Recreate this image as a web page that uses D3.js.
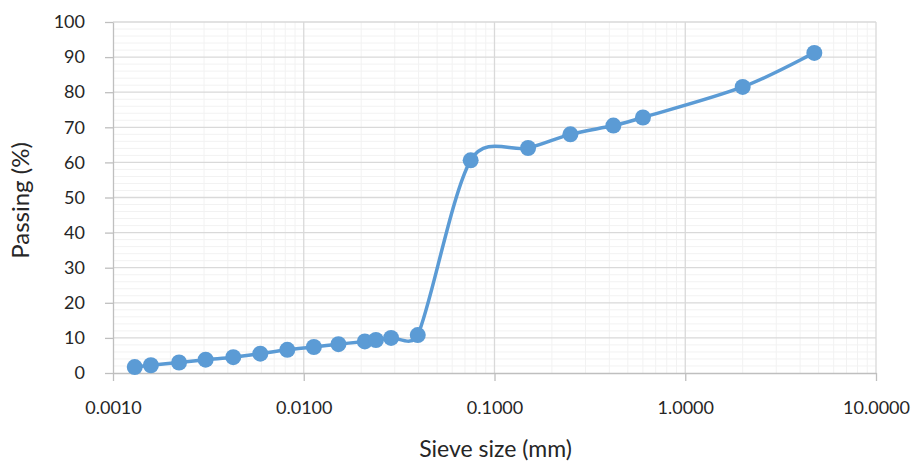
<!DOCTYPE html>
<html>
<head>
<meta charset="utf-8">
<script src="https://cdn.jsdelivr.net/npm/d3@7"></script>
<style>
  body { margin: 0; background: #fff; }
  text { font-family: Lato, "Open Sans", sans-serif; fill: #262626; }
</style>
</head>
<body>
<svg id="chart"></svg>
<script>
// sieve sizes (mm) and percent passing
const sieveSize = [0.0013, 0.00158, 0.00222, 0.00306, 0.00427, 0.00592, 0.0082, 0.0113,
  0.0152, 0.0209, 0.0239, 0.0287, 0.0396, 0.075, 0.15, 0.25, 0.42, 0.6, 2.0, 4.75];
const passing = [1.7, 2.2, 3.0, 3.8, 4.5, 5.5, 6.6, 7.4, 8.2, 9.0, 9.4, 10.0, 10.8,
  60.6, 64.1, 68.0, 70.5, 72.8, 81.5, 91.2];
const xTicks = [0.001, 0.01, 0.1, 1, 10];
const yTicks = [0, 10, 20, 30, 40, 50, 60, 70, 80, 90, 100];

const width = 913, height = 463;
const margin = {top: 22, right: 37, bottom: 90, left: 113};
const w = width - margin.left - margin.right;
const h = height - margin.top - margin.bottom;

const svg = d3.select('#chart').attr('width', width).attr('height', height);
const chart = svg.append('g').attr('transform', `translate(${margin.left},${margin.top})`);

const x = d3.scaleLog().domain([0.001, 10]).range([0, w]);
const y = d3.scaleLinear().domain([0, 100]).range([h, 0]);

// minor grid
const minorX = [];
for (let e = -3; e < 1; e++) for (let m = 2; m <= 9; m++) minorX.push(m * Math.pow(10, e));
const minorY = d3.range(2, 100, 2).filter(v => v % 10 !== 0);

chart.append('g').selectAll('line').data(minorY).join('line')
  .attr('x1', 0).attr('x2', w).attr('y1', d => y(d)).attr('y2', d => y(d))
  .attr('stroke', '#f2f2f2').attr('stroke-width', 1);
chart.append('g').selectAll('line').data(minorX).join('line')
  .attr('x1', d => x(d)).attr('x2', d => x(d)).attr('y1', 0).attr('y2', h)
  .attr('stroke', '#f2f2f2').attr('stroke-width', 1);

// major grid
chart.append('g').selectAll('line').data(yTicks.slice(1)).join('line')
  .attr('x1', 0).attr('x2', w).attr('y1', d => y(d)).attr('y2', d => y(d))
  .attr('stroke', '#d9d9d9').attr('stroke-width', 1.3);
chart.append('g').selectAll('line').data(xTicks.slice(1)).join('line')
  .attr('x1', d => x(d)).attr('x2', d => x(d)).attr('y1', 0).attr('y2', h)
  .attr('stroke', '#d9d9d9').attr('stroke-width', 1.3);

// axes
const xAxis = d3.axisBottom(x).tickValues(xTicks).tickFormat(d3.format('.4f'))
  .tickSizeInner(8).tickSizeOuter(0).tickPadding(20);
const yAxis = d3.axisLeft(y).tickValues(yTicks).tickSizeInner(8).tickSizeOuter(0).tickPadding(20);

const gx = chart.append('g').attr('transform', `translate(0,${h})`).call(xAxis);
const gy = chart.append('g').call(yAxis);
[gx, gy].forEach(g => {
  g.select('.domain').attr('stroke', '#bfbfbf').attr('stroke-width', 1.3);
  g.selectAll('.tick line').attr('stroke', '#bfbfbf').attr('stroke-width', 1.3);
  g.selectAll('.tick text').attr('font-size', 18).style('font-family', 'Lato, "Open Sans", sans-serif').attr('fill', '#1a1a1a');
});

// spreadsheet-style smoothed line: catmull-rom tangents (1/6),
// control arms clamped to half the segment length
function smoothPath(p) {
  let d = `M${p[0][0]},${p[0][1]}`;
  const dist = (a, b) => Math.hypot(b[0] - a[0], b[1] - a[1]);
  for (let i = 0; i < p.length - 1; i++) {
    const p0 = p[i - 1] || p[i], p1 = p[i], p2 = p[i + 1], p3 = p[i + 2] || p[i + 1];
    const seg = dist(p1, p2);
    let t1 = [(p2[0] - p0[0]) / 6, (p2[1] - p0[1]) / 6];
    let t2 = [(p3[0] - p1[0]) / 6, (p3[1] - p1[1]) / 6];
    const l1 = Math.hypot(t1[0], t1[1]), l2 = Math.hypot(t2[0], t2[1]);
    if (l1 > seg / 2) t1 = t1.map(v => v * seg / 2 / l1);
    if (l2 > seg / 2) t2 = t2.map(v => v * seg / 2 / l2);
    d += `C${p1[0] + t1[0]},${p1[1] + t1[1]},${p2[0] - t2[0]},${p2[1] - t2[1]},${p2[0]},${p2[1]}`;
  }
  return d;
}

// series
const pts = sieveSize.map((d, i) => [x(d), y(passing[i])]);
chart.append('path')
  .attr('d', smoothPath(pts))
  .attr('fill', 'none').attr('stroke', '#5b9bd5').attr('stroke-width', 3.5);
chart.append('g').selectAll('circle').data(pts).join('circle')
  .attr('cx', d => d[0]).attr('cy', d => d[1]).attr('r', 8)
  .attr('fill', '#5b9bd5');

// axis titles
svg.append('text').attr('x', margin.left + w / 2 + 1).attr('y', 457)
  .attr('text-anchor', 'middle').attr('font-size', 23).attr('fill', '#1a1a1a').text('Sieve size (mm)');
svg.append('text').attr('transform', `translate(29,${margin.top + h / 2 + 3}) rotate(-90)`)
  .attr('text-anchor', 'middle').attr('font-size', 24).attr('fill', '#1a1a1a').text('Passing (%)');
</script>
</body>
</html>
